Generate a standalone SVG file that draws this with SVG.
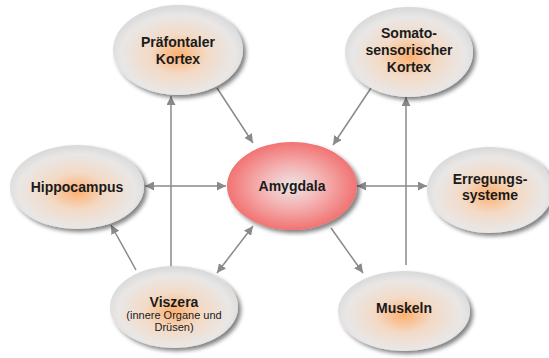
<svg xmlns="http://www.w3.org/2000/svg" width="549" height="358" viewBox="0 0 549 358">
<style>
.lbl{font-family:"Liberation Sans",Arial,sans-serif;font-weight:bold;font-size:14px;fill:#1a1a1a;text-anchor:middle}
.sub{font-family:"Liberation Sans",Arial,sans-serif;font-size:11px;fill:#1a1a1a;text-anchor:middle}
.node{fill:url(#gOr);filter:url(#sh)}
.amy{fill:url(#gRed);filter:url(#sh)}
.con line{stroke:#8a8a8a;stroke-width:1.5;fill:none}
</style>
<defs>
<radialGradient id="gOr" cx="50%" cy="55%" r="55%">
<stop offset="0" stop-color="#fdb070"/>
<stop offset="0.4" stop-color="#f3dac6"/>
<stop offset="0.8" stop-color="#e9e7e6"/>
<stop offset="1" stop-color="#d8d8d8"/>
</radialGradient>
<radialGradient id="gRed" cx="50%" cy="50%" r="55%">
<stop offset="0" stop-color="#ece6e6"/>
<stop offset="0.45" stop-color="#f4b0b0"/>
<stop offset="0.9" stop-color="#f27474"/>
<stop offset="1" stop-color="#ee6a6a"/>
</radialGradient>
<filter id="sh" x="-20%" y="-20%" width="150%" height="150%">
<feGaussianBlur in="SourceAlpha" stdDeviation="2"/>
<feOffset dx="3" dy="3" result="b"/>
<feComponentTransfer><feFuncA type="linear" slope="0.5"/></feComponentTransfer>
<feMerge><feMergeNode/><feMergeNode in="SourceGraphic"/></feMerge>
</filter>
<marker id="ah" viewBox="0 0 10 10" refX="10" refY="5" markerWidth="9" markerHeight="9" markerUnits="userSpaceOnUse" orient="auto-start-reverse">
<path d="M0,0 L10,5 L0,10 z" fill="#8a8a8a"/>
</marker>
</defs>
<g id="connectors" class="con">
<line x1="217" y1="88" x2="253" y2="143" marker-end="url(#ah)"/>
<line x1="371" y1="88" x2="333" y2="145" marker-end="url(#ah)"/>
<line x1="171" y1="270" x2="171" y2="96" marker-end="url(#ah)"/>
<line x1="406" y1="265" x2="406" y2="97" marker-end="url(#ah)"/>
<line x1="145" y1="186" x2="226" y2="186" marker-start="url(#ah)" marker-end="url(#ah)"/>
<line x1="357" y1="186" x2="427" y2="186" marker-start="url(#ah)" marker-end="url(#ah)"/>
<line x1="136" y1="270" x2="111" y2="225" marker-end="url(#ah)"/>
<line x1="253" y1="226" x2="217" y2="273" marker-start="url(#ah)" marker-end="url(#ah)"/>
<line x1="331" y1="228" x2="363" y2="273" marker-end="url(#ah)"/>
</g>
<g id="praefontaler">
<ellipse class="node" cx="178" cy="50" rx="65" ry="45"/>
<text class="lbl" x="178" y="47">Präfontaler</text>
<text class="lbl" x="178" y="64">Kortex</text>
</g>
<g id="somato">
<ellipse class="node" cx="409" cy="52" rx="64" ry="45"/>
<text class="lbl" x="409" y="38">Somato-</text>
<text class="lbl" x="409" y="55">sensorischer</text>
<text class="lbl" x="409" y="72">Kortex</text>
</g>
<g id="hippocampus">
<ellipse class="node" cx="77" cy="187" rx="67" ry="42"/>
<text class="lbl" x="77" y="192">Hippocampus</text>
</g>
<g id="amygdala">
<ellipse class="amy" cx="292" cy="186" rx="65" ry="44"/>
<text class="lbl" x="292" y="191">Amygdala</text>
</g>
<g id="erregung">
<ellipse class="node" cx="490" cy="190" rx="63" ry="43"/>
<text class="lbl" x="490" y="184">Erregungs-</text>
<text class="lbl" x="490" y="200">systeme</text>
</g>
<g id="viszera">
<ellipse class="node" cx="174" cy="307" rx="64" ry="41"/>
<text class="lbl" x="174" y="307">Viszera</text>
<text class="sub" x="174" y="319">(innere Organe und</text>
<text class="sub" x="174" y="331">Drüsen)</text>
</g>
<g id="muskeln">
<ellipse class="node" cx="404" cy="311" rx="66" ry="40"/>
<text class="lbl" x="404" y="313">Muskeln</text>
</g>
</svg>
